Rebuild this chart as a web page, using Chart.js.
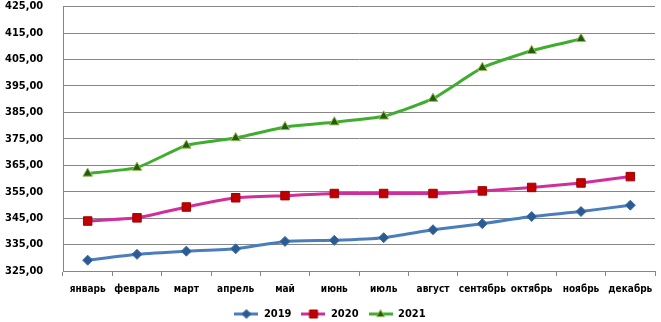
<!DOCTYPE html>
<html>
<head>
<meta charset="utf-8">
<script src="https://cdn.jsdelivr.net/npm/chart.js@4"></script>
<style>
  html, body { margin: 0; padding: 0; background: #fff; }
  #wrap { width: 661px; height: 322px; }
</style>
</head>
<body>
<div id="wrap"><canvas id="chart"></canvas></div>
<script>
const months = ['январь', 'февраль', 'март', 'апрель', 'май', 'июнь', 'июль', 'август', 'сентябрь', 'октябрь', 'ноябрь', 'декабрь'];
const values2019 = [329.1, 331.3, 332.5, 333.4, 336.2, 336.6, 337.6, 340.6, 342.9, 345.6, 347.5, 349.9];
const values2020 = [343.9, 345.1, 349.2, 352.7, 353.5, 354.3, 354.3, 354.3, 355.3, 356.6, 358.3, 360.7];
const values2021 = [361.9, 364.1, 372.5, 375.3, 379.5, 381.3, 383.5, 390.2, 401.9, 408.3, 412.8, null];
const yTicks = [325, 335, 345, 355, 365, 375, 385, 395, 405, 415, 425];

const font = 'DejaVu Sans Condensed';

// legend icon: short line with the marker in the middle
function legendIcon(lineColor, fill, border, style, r) {
    const c = document.createElement('canvas');
    c.width = 24; c.height = 12;
    const ctx = c.getContext('2d');
    ctx.strokeStyle = lineColor;
    ctx.lineWidth = 3;
    ctx.beginPath(); ctx.moveTo(0, 6); ctx.lineTo(24, 6); ctx.stroke();
    ctx.fillStyle = fill; ctx.strokeStyle = border; ctx.lineWidth = 1;
    ctx.beginPath();
    if (style === 'rectRot') {
        ctx.moveTo(12, 6 - r); ctx.lineTo(12 + r, 6); ctx.lineTo(12, 6 + r); ctx.lineTo(12 - r, 6);
    } else if (style === 'rect') {
        ctx.rect(12 - r * 0.8, 6 - r * 0.8, r * 1.6, r * 1.6);
    } else {
        ctx.moveTo(12, 6 - r); ctx.lineTo(12 + r * 0.9, 6 + r * 0.6); ctx.lineTo(12 - r * 0.9, 6 + r * 0.6);
    }
    ctx.closePath(); ctx.fill(); ctx.stroke();
    return c;
}

const series = [
    { label: '2019', data: values2019, line: '#4a7ebb', fill: '#2c5a92', border: '#3d6ba6', style: 'rectRot', r: 5 },
    { label: '2020', data: values2020, line: '#d02f9b', fill: '#c00000', border: '#a00000', style: 'rect', r: 6 },
    { label: '2021', data: values2021, line: '#3fae2f', fill: '#1e5e0c', border: '#9bbb59', style: 'triangle', r: 5.5 }
];

new Chart(document.getElementById('chart'), {
    type: 'line',
    data: {
        labels: months,
        datasets: series.map(s => ({
            label: s.label,
            data: s.data,
            borderColor: s.line,
            borderWidth: 3,
            backgroundColor: s.fill,
            pointBackgroundColor: s.fill,
            pointBorderColor: s.border,
            pointBorderWidth: 1,
            pointStyle: s.style,
            pointRadius: s.r,
            tension: 0.15,
            spanGaps: false
        }))
    },
    options: {
        responsive: true,
        maintainAspectRatio: false,
        animation: false,
        layout: { autoPadding: false, padding: { top: 0, right: 6, left: 5, bottom: -7.5 } },
        plugins: {
            tooltip: { enabled: false },
            legend: {
                position: 'bottom',
                labels: {
                    color: '#000',
                    font: { family: font, size: 11, weight: 'bold' },
                    usePointStyle: true,
                    pointStyleWidth: 24,
                    boxHeight: 11,
                    padding: 10,
                    generateLabels: chart => series.map((s, i) => ({
                        text: s.label,
                        pointStyle: legendIcon(s.line, s.fill, s.border, s.style, i === 1 ? 5 : 4.5),
                        fillStyle: s.fill,
                        strokeStyle: s.line,
                        lineWidth: 0,
                        datasetIndex: i
                    }))
                }
            }
        },
        scales: {
            x: {
                offset: true,
                afterFit: scale => { scale.height = 27.5; },
                grid: { offset: true, drawOnChartArea: false, drawTicks: true, tickLength: 5, color: '#868686' },
                border: { color: '#868686' },
                ticks: { color: '#000', font: { family: font, size: 10, weight: 'bold' }, maxRotation: 0, autoSkip: false, padding: 7 }
            },
            y: {
                min: 325,
                max: 425,
                afterBuildTicks: scale => { scale.ticks = yTicks.map(v => ({ value: v })); },
                afterFit: scale => { scale.width = 58; },
                grid: { color: '#868686', drawTicks: false },
                border: { color: '#868686' },
                ticks: {
                    color: '#000',
                    font: { family: font, size: 11, weight: 'bold' },
                    padding: 0,
                    crossAlign: 'far',
                    callback: v => v.toFixed(2).replace('.', ',')
                }
            }
        }
    }
});
</script>
</body>
</html>
